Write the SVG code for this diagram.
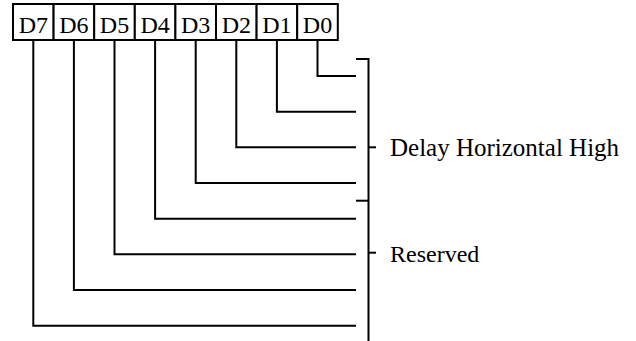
<svg xmlns="http://www.w3.org/2000/svg" width="636" height="341" viewBox="0 0 636 341">
<style>
.box{fill:#fff;stroke:#000;stroke-width:2}
.lbl{font-family:"Liberation Serif","Times New Roman",serif;font-size:24px;fill:#000}
.btxt{font-family:"Liberation Serif","Times New Roman",serif;font-size:24px;fill:#000;text-anchor:middle}
.ln{fill:none;stroke:#000;stroke-width:2}
</style>
<rect width="636" height="341" fill="#fff"/>
<g id="reg">
<g id="D7"><rect class="box" x="13" y="4" width="40.6" height="36"/><text class="btxt" x="33.3" y="32.5">D7</text></g>
<g id="D6"><rect class="box" x="53.6" y="4" width="40.6" height="36"/><text class="btxt" x="73.9" y="32.5">D6</text></g>
<g id="D5"><rect class="box" x="94.2" y="4" width="40.6" height="36"/><text class="btxt" x="114.5" y="32.5">D5</text></g>
<g id="D4"><rect class="box" x="134.8" y="4" width="40.6" height="36"/><text class="btxt" x="155.1" y="32.5">D4</text></g>
<g id="D3"><rect class="box" x="175.4" y="4" width="40.6" height="36"/><text class="btxt" x="195.7" y="32.5">D3</text></g>
<g id="D2"><rect class="box" x="216" y="4" width="40.6" height="36"/><text class="btxt" x="236.3" y="32.5">D2</text></g>
<g id="D1"><rect class="box" x="256.6" y="4" width="40.6" height="36"/><text class="btxt" x="276.9" y="32.5">D1</text></g>
<g id="D0"><rect class="box" x="297.2" y="4" width="40.6" height="36"/><text class="btxt" x="317.5" y="32.5">D0</text></g>
</g>
<g id="connectors">
<polyline class="ln" points="317.5,40 317.5,76 356,76"/>
<polyline class="ln" points="276.9,40 276.9,111.7 356,111.7"/>
<polyline class="ln" points="236.3,40 236.3,147.3 356,147.3"/>
<polyline class="ln" points="195.7,40 195.7,183 356,183"/>
<polyline class="ln" points="155.1,40 155.1,218.7 356,218.7"/>
<polyline class="ln" points="114.5,40 114.5,254.3 356,254.3"/>
<polyline class="ln" points="73.9,40 73.9,290 356,290"/>
<polyline class="ln" points="33.3,40 33.3,325.7 356,325.7"/>
<polyline class="ln" points="356,59 368.5,59 368.5,341"/>
<line class="ln" x1="356" y1="200.7" x2="368.5" y2="200.7"/>
<line class="ln" x1="368.5" y1="147.3" x2="376" y2="147.3"/>
<line class="ln" x1="368.5" y1="252.7" x2="376" y2="252.7"/>
</g>
<g id="labels">
<text class="lbl" x="390" y="156" style="font-size:25px">Delay Horizontal High</text>
<text class="lbl" x="390" y="262">Reserved</text>
</g>
</svg>
